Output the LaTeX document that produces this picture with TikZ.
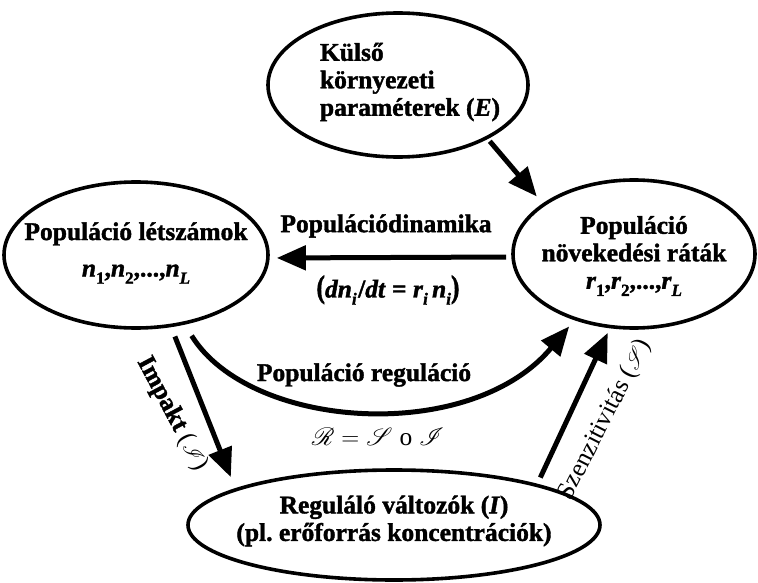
\documentclass[tikz,border=0pt]{standalone}
\usepackage{fontspec}
\setmainfont{Liberation Serif}[BoldFeatures={FakeBold=1.5},BoldItalicFeatures={FakeBold=1.5}]
\usepackage{mathrsfs}
\usetikzlibrary{arrows.meta,shapes.geometric}
\newcommand{\lo}[1]{\raisebox{-0.28em}{\fontsize{17}{17}\selectfont #1}}
\newcommand{\scr}[1]{\scalebox{0.85}{$\mathscr{#1}$}}
\frenchspacing
\begin{document}
\begin{tikzpicture}[x=1pt,y=-1pt,
  ell/.style={draw, ellipse, line width=3.6pt, inner sep=0pt},
  txt/.style={font=\bfseries\fontsize{25.5}{27.5}\selectfont, align=center, inner sep=0pt},
  lab/.style={font=\fontsize{25.5}{27}\selectfont, inner sep=0pt},
  arr/.style={line width=5pt, -{Triangle[length=29pt,width=24pt]}}]
\useasboundingbox (0,0) rectangle (758,583);
% ellipses
\node[ell, minimum width=260pt, minimum height=144pt] (top) at (398,85) {};
\node[ell, minimum width=264pt, minimum height=146pt] (left) at (136,255) {};
\node[ell, minimum width=242pt, minimum height=148pt] (right) at (634,254) {};
\node[ell, minimum width=412pt, minimum height=110pt] (bottom) at (394,525) {};
% texts in ellipses
\node[txt, align=left] (toptxt) at (410,82) {Külső\\környezeti\\paraméterek (\textit{E})};
\node[txt] (lefttxt) at (136,253) {Populáció létszámok\\[9pt]\textit{n}\lo{1},\textit{n}\lo{2},...,\textit{n}\lo{\textit{L}}};
\node[txt] (righttxt) at (634,256) {Populáció\\növekedési ráták\\\textit{r}\lo{1},\textit{r}\lo{2},...,\textit{r}\lo{\textit{L}}};
\node[txt] (bottomtxt) at (394,521) {Reguláló változók (\textit{I})\\(pl. erőforrás koncentrációk)};
% arrows
\draw[arr, shorten <=3pt, shorten >=9pt] (top.-31) -- (right.151);
\draw[arr, shorten <=5pt, shorten >=7pt] ([yshift=-3pt]right.west) -- ([yshift=-3pt]left.east);
\draw[arr, shorten <=10pt, shorten >=12pt] (left.-64) -- (bottom.167);
\draw[arr, shorten <=13pt, shorten >=8pt] (left.-55) .. controls (250,430) and (470,445) .. (right.-132);
\draw[arr, shorten <=7pt, shorten >=5pt] (bottom.16.5) -- (right.-108);
% labels
\node[lab, font=\bfseries\fontsize{25.5}{27}\selectfont] (pdyn) at (386,226) {Populációdinamika};
\node[lab, font=\bfseries\fontsize{25.5}{27}\selectfont] (pdform) at (388,290) {\scalebox{1}[1.25]{(}\textit{dn}\lo{\textit{i}}\kern1.5pt/\textit{dt} = \textit{r}\lo{\textit{i}}\,\textit{n}\lo{\textit{i}}\scalebox{1}[1.25]{)}};
\node[lab, font=\bfseries\fontsize{25.5}{27}\selectfont] (preg) at (364,375) {Populáció reguláció};
\node[lab] (rel) at (378,437) {$\mathscr{R}=\mathscr{S}\;\mathrm{o}\;\mathscr{I}$};
\node[lab, rotate=-62] (impakt) at (172,414) {\textbf{Impakt} (\scr{I})};
\node[lab, rotate=63] (szen) at (605,420) {Szenzitivitás (\scr{S})};
\end{tikzpicture}
\end{document}
